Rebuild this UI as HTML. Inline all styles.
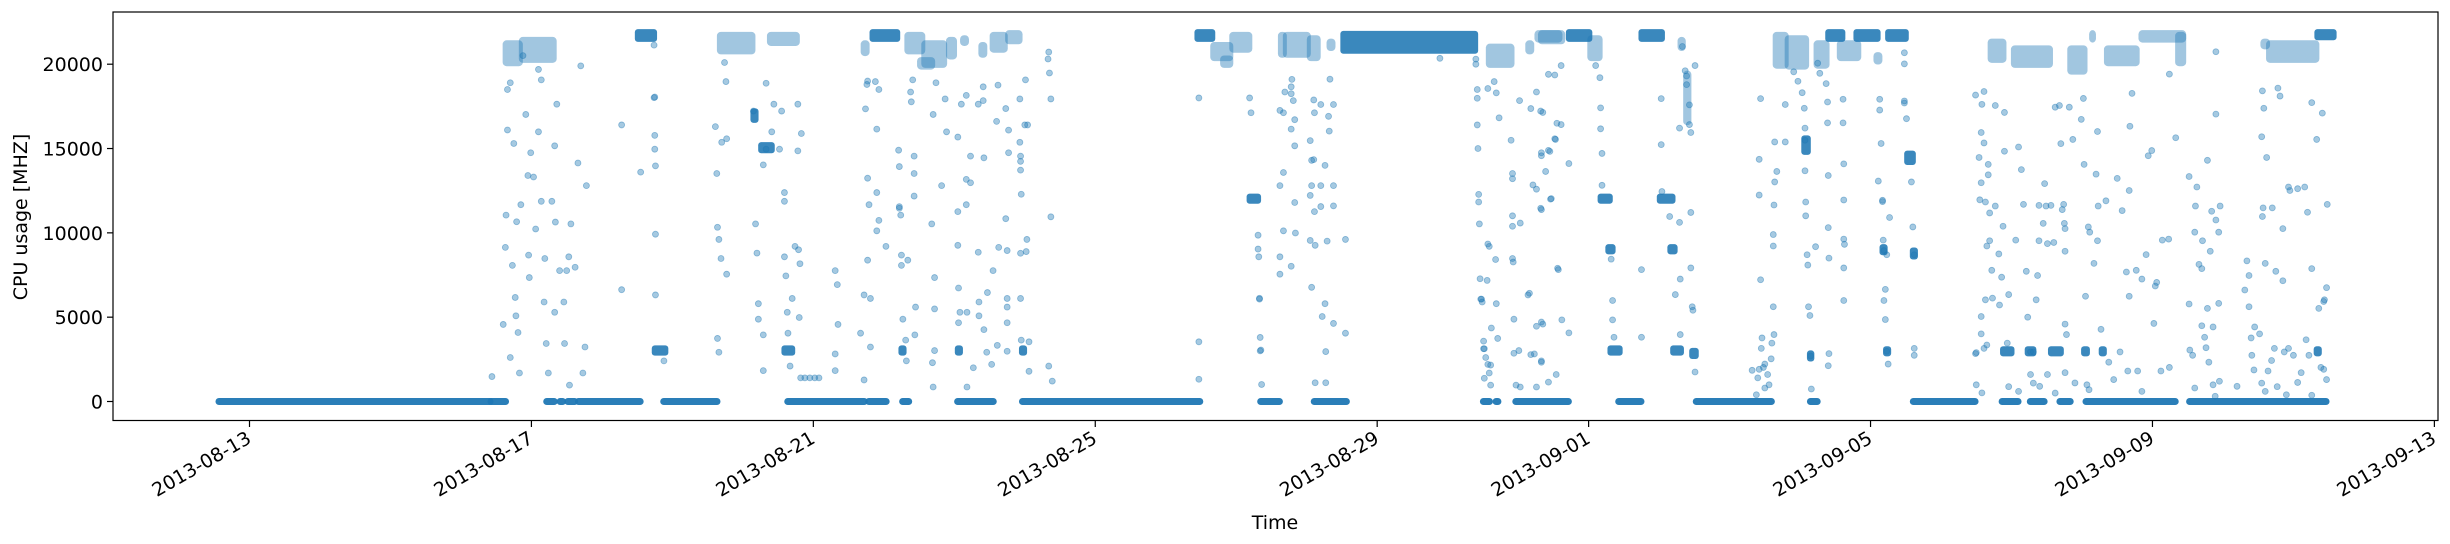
<!DOCTYPE html>
<html><head><meta charset="utf-8"><style>
html,body{margin:0;padding:0;background:#fff;}
svg{display:block;font-family:"DejaVu Sans","Liberation Sans",sans-serif;}
</style></head><body>
<svg id="chart" width="2450" height="544" viewBox="0 0 2450 544" xmlns="http://www.w3.org/2000/svg">
<g id="marks"></g>
<g id="axes"></g>
</svg>
<script>
// ---- data (days relative to 2013-08-13, values in MHz) ----
const xTickLabels = ["2013-08-13","2013-08-17","2013-08-21","2013-08-25","2013-08-29","2013-09-01","2013-09-05","2013-09-09","2013-09-13"];
const xTickDays = [0,4,8,12,16,19,23,27,31];
const yTickValues = [0,5000,10000,15000,20000];
const zeroRunStart = [-0.44,3.42,4.21,4.40,4.51,4.66,5.87,7.63,8.78,9.26,10.04,10.96,14.34,15.10,17.50,17.68,17.96,19.42,20.52,22.14,23.60,24.86,25.26,25.68,26.05,27.52];
const zeroRunEnd   = [3.42,3.64,4.33,4.45,4.62,5.55,6.64,8.73,9.04,9.36,10.56,13.49,14.62,15.57,17.60,17.72,18.72,19.75,21.60,22.25,24.49,25.10,25.47,25.84,27.33,29.47];
// dense solid runs: start, end, low, high
const solidStart = [5.51,5.75,7.26,7.15,7.59,9.25,10.05,10.96,14.19,15.52,18.72,19.17,19.28,19.31,19.75,20.01,20.16,20.20,20.47,22.06,22.14,22.40,22.80,23.17,23.22,23.25,23.52,23.60,24.88,25.23,25.56,26.03,26.28,29.33,29.34,13.45,8.84];
const solidEnd   = [5.74,5.90,7.41,7.18,7.70,9.28,10.08,10.99,14.31,17.39,19.01,19.30,19.34,19.44,20.04,20.19,20.22,20.31,20.52,22.11,22.16,22.60,23.10,23.20,23.25,23.50,23.60,23.63,25.00,25.31,25.70,26.07,26.31,29.36,29.57,13.66,9.19];
const solidLow   = [21500,2900,14900,16700,2900,2900,2900,2900,11900,20800,21500,11900,8900,2900,21500,11900,8900,2900,2700,14800,2550,21500,21500,8850,2850,21500,14200,8600,2850,2850,2850,2850,2850,2850,21600,21500,21500];
const solidHigh  = [21900,3150,15200,17200,3150,3150,3150,3150,12150,21800,21900,12150,9150,3150,21900,12150,9150,3150,3000,15600,2850,21900,21900,9150,3100,21900,14700,8950,3100,3100,3100,3100,3100,3100,21900,21900,21900];
// speckled clouds: start, end, low, high
const cloudStart = [3.62,3.85,6.66,7.37,8.70,9.32,9.50,9.56,9.91,10.11,10.37,10.53,10.75,13.66,13.80,13.93,14.62,14.69,15.03,15.31,17.57,18.13,18.26,18.31,19.01,20.29,20.37,21.64,21.81,22.22,22.55,23.07,24.69,25.02,25.82,26.13,26.34,26.83,27.35,28.64,28.56];
const cloudEnd   = [3.85,4.33,7.15,7.78,8.77,9.56,9.70,9.87,10.01,10.18,10.44,10.73,10.94,13.93,13.93,14.20,14.69,15.03,15.17,15.38,17.92,18.20,18.60,18.64,19.17,20.35,20.43,21.81,22.10,22.39,22.84,23.14,24.90,25.56,26.05,26.17,26.79,27.45,27.45,29.34,28.64];
const cloudLow   = [20000,20200,20700,21200,20600,20700,19800,19900,20400,21200,20500,20800,21300,20300,19900,20800,20500,20500,20300,20900,19900,20700,21400,21300,20300,20900,16500,19850,19800,19850,20300,20100,20200,19900,19500,21400,20000,21400,20000,20200,21000];
const cloudHigh  = [21300,21500,21800,21800,21300,21800,20300,21300,21500,21600,21200,21800,21900,21200,20400,21800,21800,21800,21600,21400,21100,21300,21900,21900,21600,21500,19500,21800,21600,21300,21300,20600,21400,21000,21000,21900,21000,21900,21800,21300,21400];
const scatterPoints = [
[3.44,1480],[3.64,11050],[3.63,9140],[3.66,18500],[3.73,8070],[3.77,6170],[3.78,5080],[3.60,4570],[3.81,4090],[3.83,1690],[3.70,2610],[3.79,10660],[3.85,11670],[3.96,8680],[3.97,7350],[3.99,14750],[4.03,13310],[4.06,10230],[4.10,15990],[4.14,11870],[4.18,5900],[4.19,8480],[4.21,3440],[4.24,1690],[4.29,11870],[4.33,5290],[4.34,10640],[4.36,17630],[4.40,7760],[4.46,5900],[4.47,3440],[4.50,7760],[4.53,8580],[4.54,970],[4.56,10530],[4.62,7960],[4.66,14140],[4.70,19900],[4.76,3230],[4.78,12800],[4.73,1690],[4.33,15160],[4.14,19070],[3.92,17020],[3.88,20510],[4.10,19690],[3.70,18900],[3.66,16100],[3.75,15300],[3.95,13400],
[5.28,16400],[5.28,6630],[5.55,13600],[5.74,21130],[5.75,18050],[5.75,14960],[5.76,13970],[5.76,9920],[5.76,6320],[5.88,2410],[5.75,15780],[5.74,18020],
[6.63,13520],[6.64,10330],[6.66,9610],[6.69,8480],[6.77,7550],[6.64,3740],[6.66,2920],[6.70,15370],[6.77,15580],[6.76,18970],[6.74,20100],[6.61,16300],[7.18,10530],[7.22,5800],[7.22,4880],[7.29,3950],[7.29,1830],[7.29,14030],[7.33,14960],[7.33,18870],[7.15,17220],[7.41,15990],[7.44,17630],[7.52,14960],[7.55,17220],[7.59,12390],[7.59,11870],[7.59,8580],[7.61,7450],[7.63,5290],[7.64,4050],[7.67,2100],[7.70,6110],[7.74,9200],[7.78,14860],[7.78,17630],[7.80,4980],[7.81,8170],[7.83,15890],[7.20,8800],[7.79,9000],[7.82,1400],[7.88,1400],[7.95,1400],[8.02,1400],[8.08,1400],
[8.74,17350],[8.77,19000],[8.77,13240],[8.79,11670],[8.77,8380],[8.72,6320],[8.81,6110],[8.67,4050],[8.35,4570],[8.31,7760],[8.34,6930],[8.31,2820],[8.31,1830],[8.72,1280],[8.81,3230],[8.90,12390],[8.93,10740],[8.90,10120],[8.90,16150],[9.03,9200],[8.88,18970],[8.93,18500],[9.22,13930],[9.25,8680],[9.25,8070],[9.27,4880],[9.31,3640],[9.32,2410],[9.22,11460],[9.24,11050],[9.34,8380],[9.43,12180],[9.43,13520],[9.43,14550],[9.39,17770],[9.38,18350],[9.41,19070],[9.45,5600],[9.44,3950],[9.68,10530],[9.72,7350],[9.72,5490],[9.72,3020],[9.69,2300],[9.70,860],[9.70,17020],[9.74,18900],[9.87,17940],[9.89,15990],[9.82,12800],[10.05,15680],[10.05,11260],[10.05,9260],[10.06,6730],[10.06,4670],[10.08,5290],[10.18,5290],[10.18,860],[10.17,13170],[10.23,12970],[10.17,11670],[10.17,18150],[10.23,14550],[10.10,17630],[10.34,17630],[10.41,18660],[10.41,17840],[10.42,14450],[10.34,8850],[10.35,5900],[10.35,5080],[10.42,4260],[10.47,6460],[10.55,7760],[10.46,2920],[10.27,2000],[10.53,2200],[10.61,3330],[10.63,9140],[10.60,16610],[10.62,18760],[10.73,10840],[10.75,8950],[10.75,6110],[10.75,5600],[10.75,4670],[10.75,2980],[10.77,14750],[10.77,16090],[10.73,17370],[10.93,17940],[10.93,15370],[10.94,14550],[10.94,14240],[10.94,13720],[10.95,12290],[10.94,6110],[10.94,8790],[11.03,9610],[11.02,8890],[11.00,16400],[11.04,16400],[11.01,19070],[11.06,3540],[11.06,1790],[10.95,3640],[11.34,2100],[11.39,1210],[11.37,10950],[11.37,17940],[11.35,19480],[11.34,20720],[11.33,20310],[8.76,18800],[9.21,14900],[9.22,11550],
[13.47,18000],[13.47,3540],[13.47,1320],[14.19,18000],[14.21,17120],[14.31,9860],[14.31,9040],[14.32,8580],[14.33,6070],[14.33,6120],[14.34,3800],[14.34,3000],[14.35,3050],[14.36,1010],
[14.79,19100],[14.78,18660],[14.69,18350],[14.78,18250],[14.81,17840],[14.62,17260],[14.67,17120],[14.83,16710],[14.78,16150],[14.83,15160],[15.05,15470],[15.07,14300],[15.10,14340],[15.26,14000],[14.67,13580],[14.62,12800],[15.07,12800],[15.20,12800],[15.38,12800],[15.05,12220],[14.83,11800],[15.11,11260],[15.20,11560],[15.38,11600],[14.67,10120],[14.84,9990],[15.05,9550],[15.12,9260],[15.29,9510],[15.55,9610],[14.62,8580],[14.78,8020],[14.62,7550],[15.07,6770],[15.26,5800],[15.22,5040],[15.38,4630],[15.55,4050],[15.27,2960],[15.12,1110],[15.27,1110],[15.10,17880],[15.11,17120],[15.20,17610],[15.31,16910],[15.32,16030],[15.38,17610],[15.33,19110],
[16.89,20350],[17.40,20300],[17.40,20000],
[17.42,18500],[17.42,17980],[17.42,16400],[17.43,15000],[17.44,12280],[17.44,11830],[17.45,10530],[17.47,6070],[17.48,6070],[17.46,7280],[17.56,7180],[17.49,5900],[17.51,3580],[17.51,3130],[17.52,3130],[17.54,2610],[17.57,2200],[17.59,1690],[17.52,1380],[17.61,970],[17.57,9340],[17.59,9200],[17.57,18560],[17.66,18970],[17.69,18300],[17.68,8420],[17.69,5800],[17.71,3740],[17.62,4360],[17.61,2160],[17.73,16820],[17.90,15490],[17.92,13520],[17.92,13210],[17.92,11010],[17.92,10390],[18.03,10580],[17.92,8480],[17.93,8270],[17.94,4880],[17.97,970],[18.01,3020],[18.03,860],[17.94,2860],[18.02,17840],[18.18,17370],[18.21,12840],[18.26,12590],[18.26,18350],[18.23,2820],[18.26,4460],[18.33,4710],[18.33,2410],[18.32,11460],[18.32,17220],[18.33,14750],[18.43,14890],[18.47,12030],[18.52,15580],[18.55,16500],[18.56,7900],[18.26,860],[18.14,6320],[18.16,6420],[18.18,2780],
[18.35,17140],[18.33,11380],[18.33,14570],[18.35,4590],[18.33,2330],[18.39,13640],[18.43,1150],[18.45,14830],[18.46,12000],[18.53,15540],[18.54,1600],[18.57,7820],[18.61,16420],[18.62,4840],[18.61,19920],[18.52,19360],[18.43,19400],[18.72,4070],[18.72,14110],
[19.10,19920],[19.16,19200],[19.17,17410],[19.17,16170],[19.19,14710],[19.19,12820],[19.32,8440],[19.34,5990],[19.34,4840],[19.36,3810],[19.75,7820],[19.75,3810],[20.04,12450],[20.03,17960],[20.03,15230],[20.15,10970],[20.29,10620],[20.30,7260],[20.23,6340],[20.30,3970],[20.29,16210],[20.33,21050],[20.37,19610],[20.39,19300],[20.39,18790],[20.43,17590],[20.43,16420],[20.45,15950],[20.45,11210],[20.45,7920],[20.47,5620],[20.48,5410],[20.51,1750],[20.51,19920],
[21.44,17960],[21.42,14360],[21.42,12240],[21.44,7220],[21.46,3770],[21.45,3150],[21.42,1910],[21.32,1850],[21.40,1400],[21.48,2020],[21.50,2220],[21.54,1600],[21.56,990],[21.59,2530],[21.60,3460],[21.63,3970],[21.62,5620],[21.62,9220],[21.62,9900],[21.63,11650],[21.64,13020],[21.67,13640],[21.64,15390],[21.79,17610],[21.79,15390],[21.91,19550],[21.97,18990],[22.03,18310],[22.06,17390],[22.07,16210],[22.07,15490],[22.07,13680],[22.08,11830],[22.08,11010],[22.10,8700],[22.11,8090],[22.12,5620],[22.14,5100],[22.15,2700],[22.16,740],[22.22,9180],[22.25,20060],[22.28,19460],[22.37,18850],[22.39,17760],[22.39,16520],[22.40,13400],[22.41,8500],[22.41,2840],[22.40,2120],[22.40,10310],[22.61,17920],[22.61,16520],[22.62,14090],[22.62,11950],[22.62,9630],[22.63,9320],[22.62,7920],[22.62,5990],[23.13,17280],[23.11,13070],[23.17,11930],[23.18,9570],[23.19,8950],[23.23,8700],[23.21,6650],[23.21,4860],[23.23,2980],[23.25,2220],[23.27,10910],[23.48,20680],[23.48,20020],[23.48,17820],[23.51,16770],[23.58,13020],[23.60,10350],[23.62,8700],[23.62,3150],[23.62,2740],[23.19,5990],[23.17,11850],[23.13,17920],[23.15,15300],[23.48,17700],
[24.49,18170],[24.50,2900],[24.49,2840],[24.54,14470],[24.55,11960],[24.57,15950],[24.57,12970],[24.58,17620],[24.61,15330],[24.61,18380],[24.63,11830],[24.63,6030],[24.65,9220],[24.67,14060],[24.67,13440],[24.69,11180],[24.69,9530],[24.72,7780],[24.73,6130],[24.57,5040],[24.57,4010],[24.61,3150],[24.65,3350],[24.58,510],[24.50,990],[24.77,17550],[24.77,11590],[24.82,8750],[24.83,5720],[24.86,7370],[24.88,10390],[24.90,17140],[24.90,14840],[24.94,3460],[24.96,6340],[24.96,880],[25.06,9570],[25.10,15090],[25.14,13750],[25.17,11690],[25.21,7720],[25.23,5000],[25.27,2940],[25.27,1600],[25.31,1090],[25.31,2940],[25.35,6030],[25.37,7470],[25.39,9530],[25.39,11630],[25.45,10560],[25.47,12920],[25.49,11590],[25.51,9360],[25.51,1600],[25.56,11630],[25.60,9430],[25.62,17450],[25.68,17550],[25.70,15290],[25.72,11380],[25.74,11690],[25.75,10560],[25.76,10250],[25.76,8910],[25.76,4590],[25.76,1710],[25.78,3970],[25.82,17450],[25.87,15540],[25.99,16730],[26.02,17970],[26.03,14060],[26.05,6240],[26.07,990],[26.09,10350],[26.11,10040],[26.17,8190],[26.20,13480],[26.22,16010],[26.22,9530],[26.23,11590],[26.27,4280],[26.34,11900],[26.38,2330],[26.50,13230],[26.54,2940],[26.57,11320],[26.63,7680],[26.65,1810],[26.67,12510],[26.67,6240],[26.68,16320],[26.71,18270],[26.77,7780],[26.79,1810],[26.85,7260],[26.91,8710],[26.94,14570],[26.99,14880],[27.04,6850],[27.06,7060],[27.02,4630],[27.12,1810],[27.14,9570],[27.23,9630],[27.24,2020],[27.24,19410],[27.33,15640],[27.52,13340],[27.52,5780],[27.53,3050],[27.57,2740],[27.60,10040],[27.61,11590],[27.63,12720],[27.66,8130],[27.70,7880],[27.70,4490],[27.71,9530],[27.74,3810],[27.76,3190],[27.78,14300],[27.78,5520],[27.80,2330],[27.82,8910],[27.84,11280],[27.86,4420],[27.86,990],[27.89,310],[27.90,20740],[27.90,17040],[27.90,10760],[27.94,10040],[27.94,5820],[27.96,11590],[28.31,6610],[28.34,8340],[28.37,7470],[28.37,5620],[28.40,3770],[28.41,2740],[28.44,1870],[28.45,4420],[28.52,4010],[28.55,15700],[28.55,1090],[28.56,10970],[28.57,11480],[28.58,17390],[28.56,18420],[28.60,8190],[28.62,14470],[28.64,1810],[28.69,2430],[28.70,11480],[28.73,3150],[28.75,7720],[28.77,880],[28.78,18580],[28.81,18110],[28.85,10250],[28.85,7160],[28.87,2940],[28.93,3150],[28.95,12510],[29.00,2740],[29.06,1130],[29.11,1710],[29.16,12720],[29.18,3660],[29.20,11220],[29.22,2740],[29.26,7880],[29.26,17720],[29.26,370],[29.33,15540],[29.36,5520],[29.39,2020],[29.41,17100],[29.43,1910],[29.43,5930],[29.44,6030],[29.47,6750],[29.48,11690],[29.47,1300],[29.06,12620],[28.93,12720],
[25.10,600],[25.40,900],[25.62,500],[25.90,1100],[26.10,700],[26.45,1300],[26.85,600],[27.60,800],[27.95,1200],[28.20,900],[28.60,600],[28.90,400],[21.38,400],[21.50,800]
];

// ---- axes functions ----
const X0 = 249.5, PXDAY = 70.48, Y0 = 401.5, PXV = 0.016865;
const xs = d => X0 + d * PXDAY;
const ys = v => Y0 - v * PXV;
const NS = "http://www.w3.org/2000/svg";
const marks = document.getElementById('marks');
const axes = document.getElementById('axes');
function mk(tag, attrs, parent){ const e=document.createElementNS(NS,tag); for(const k in attrs) e.setAttribute(k,attrs[k]); parent.appendChild(e); return e; }
const C = "31,119,180";

for (let i=0;i<zeroRunStart.length;i++){
  const r = mk('rect',{x:xs(zeroRunStart[i])-3,y:ys(0)-3.5,width:xs(zeroRunEnd[i])-xs(zeroRunStart[i])+6,height:7,rx:3.5,fill:`rgba(${C},0.95)`},marks);
  
  
}
for (let i=0;i<cloudStart.length;i++){
  const r = mk('rect',{x:xs(cloudStart[i])-2,y:ys(cloudHigh[i])-2,width:xs(cloudEnd[i])-xs(cloudStart[i])+4,height:ys(cloudLow[i])-ys(cloudHigh[i])+4,rx:4,fill:`rgba(${C},0.42)`},marks);
  
  
}
for (let i=0;i<solidStart.length;i++){
  const r = mk('rect',{x:xs(solidStart[i])-3,y:ys(solidHigh[i])-3,width:xs(solidEnd[i])-xs(solidStart[i])+6,height:ys(solidLow[i])-ys(solidHigh[i])+6,rx:3,fill:`rgba(${C},0.88)`},marks);
  
  
}
for (const p of scatterPoints){
  const c = mk('circle',{cx:xs(p[0]),cy:ys(p[1]),r:3,fill:`rgba(${C},0.4)`,stroke:`rgba(${C},0.45)`,'stroke-width':0.8},marks);
  
  
}

const frame = mk('rect',{x:113,y:12,width:2325,height:408.5,fill:'none',stroke:'#000','stroke-width':1.2},axes);



for (const v of yTickValues){
  const y = ys(v);
  const t = mk('line',{x1:113,x2:107,y1:y,y2:y,stroke:'#000','stroke-width':1.2},axes);
  
  
  const l = mk('text',{x:103,y:y+7,'text-anchor':'end','font-size':19,fill:'#000'},axes);
  l.textContent = v;
  
  
}
for (let i=0;i<xTickDays.length;i++){
  const x = xs(xTickDays[i]);
  const t = mk('line',{x1:x,x2:x,y1:420.5,y2:427,stroke:'#000','stroke-width':1.2},axes);
  
  
  const l = mk('text',{x:0,y:0,'text-anchor':'end','font-size':19,fill:'#000',transform:`translate(${x+3},${442}) rotate(-30)`},axes);
  l.textContent = xTickLabels[i];
  
  
}
const yl = mk('text',{x:0,y:0,'text-anchor':'middle','font-size':19,fill:'#000',transform:'translate(27,217) rotate(-90)'},axes);
yl.textContent = 'CPU usage [MHZ]';


const xl = mk('text',{x:1275,y:529,'text-anchor':'middle','font-size':19,fill:'#000'},axes);
xl.textContent = 'Time';


</script>
</body></html>
